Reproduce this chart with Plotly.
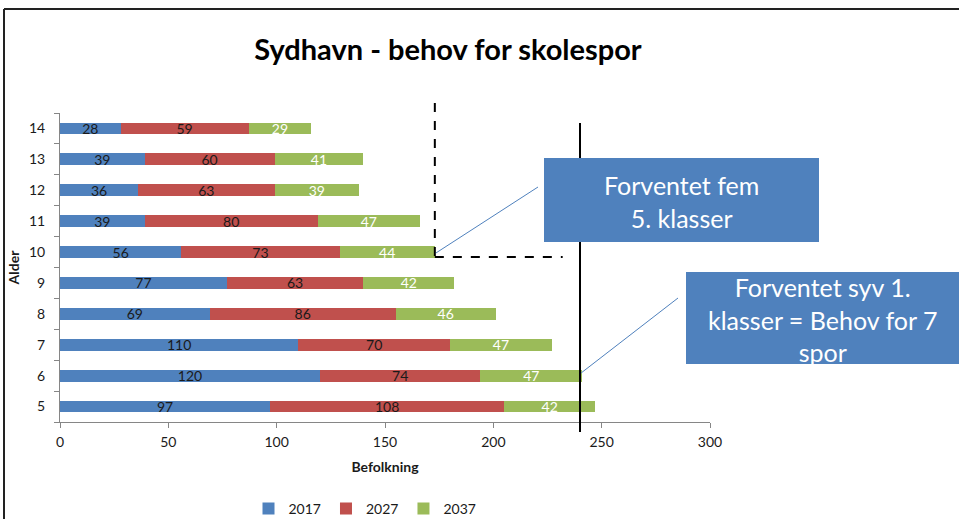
import plotly.graph_objects as go

ages = ["5", "6", "7", "8", "9", "10", "11", "12", "13", "14"]
v2017 = [97, 120, 110, 69, 77, 56, 39, 36, 39, 28]
v2027 = [108, 74, 70, 86, 63, 73, 80, 63, 60, 59]
v2037 = [42, 47, 47, 46, 42, 44, 47, 39, 41, 29]
series_names = ["2017", "2027", "2037"]
x_ticks = [0, 50, 100, 150, 200, 250, 300]

behov_7_spor = 240
dash_end = 232

FONT = "Lato"
BLUE, RED, GREEN = "#4F81BD", "#C0504D", "#9BBB59"

# plot area in pixels
W, H = 959, 519
L, R, T, B = 60, 710, 113, 422


def px(xp):
    return (xp - L) / (R - L)


def py(yp):
    return (B - yp) / (B - T)


fig = go.Figure()
for name, vals, col, tcol in [
    (series_names[0], v2017, BLUE, "#1a1a1a"),
    (series_names[1], v2027, RED, "#1a1a1a"),
    (series_names[2], v2037, GREEN, "white"),
]:
    fig.add_trace(go.Bar(
        y=ages, x=vals, name=name, orientation="h",
        marker=dict(color=col, line=dict(width=0)),
        text=vals, textposition="inside", insidetextanchor="middle",
        textangle=0, constraintext="none",
        textfont=dict(color=tcol, size=14, family=FONT),
    ))

age10 = ages.index("10")
x10 = v2017[age10] + v2027[age10] + v2037[age10]

shapes = [
    # outer frame
    dict(type="line", xref="paper", yref="paper", x0=px(4), x1=px(4), y0=py(9), y1=py(H + 5), line=dict(color="#222", width=2)),
    dict(type="line", xref="paper", yref="paper", x0=px(4), x1=px(W + 5), y0=py(9), y1=py(9), line=dict(color="#222", width=2)),
    # solid need line
    dict(type="line", xref="x", yref="paper", x0=behov_7_spor, x1=behov_7_spor, y0=py(123), y1=py(432), line=dict(color="black", width=2)),
    # dashed lines at age 10
    dict(type="line", xref="x", yref="paper", x0=x10, x1=x10, y0=py(103), y1=py(258), line=dict(color="black", width=2, dash="dash")),
    dict(type="line", xref="x", yref="paper", x0=x10, x1=dash_end, y0=py(257), y1=py(257), line=dict(color="black", width=2, dash="dash")),
    # connector lines
    dict(type="line", xref="x", yref="paper", x0=x10 + 0.5, x1=(538 - L) / (R - L) * 300, y0=py(253), y1=py(187), line=dict(color=BLUE, width=1)),
    dict(type="line", xref="x", yref="paper", x0=behov_7_spor + 0.5, x1=(678 - L) / (R - L) * 300, y0=py(373), y1=py(298), line=dict(color=BLUE, width=1)),
    # callout boxes
    dict(type="rect", xref="paper", yref="paper", x0=px(544), x1=px(819), y0=py(158), y1=py(242), fillcolor=BLUE, line=dict(width=0)),
    dict(type="rect", xref="paper", yref="paper", x0=px(686), x1=px(W + 5), y0=py(272), y1=py(364), fillcolor=BLUE, line=dict(width=0)),
]

annotations = [
    dict(xref="paper", yref="paper", x=px(681), y=py(201), text="Forventet fem<br>5. klasser",
         showarrow=False, font=dict(family=FONT, size=25, color="white"), xanchor="center", yanchor="middle"),
    dict(xref="paper", yref="paper", x=px(822), y=py(319), text="Forventet syv 1.<br>klasser = Behov for 7<br>spor",
         showarrow=False, font=dict(family=FONT, size=25, color="white"), xanchor="center", yanchor="middle"),
]

fig.update_layout(
    width=W, height=H,
    margin=dict(l=L, r=W - R, t=T, b=H - B, autoexpand=False),
    barmode="stack", bargap=0.62,
    paper_bgcolor="white", plot_bgcolor="white",
    font=dict(family=FONT, size=14, color="#1a1a1a"),
    title=dict(text="<b>Sydhavn - behov for skolespor</b>", x=448 / W, xanchor="center",
               y=1 - 50 / H, yanchor="middle", font=dict(family=FONT, size=29, color="black")),
    xaxis=dict(range=[0, 300], tickvals=x_ticks, showgrid=False, zeroline=False, automargin=False,
               showline=True, linecolor="#868686", linewidth=1, ticks="outside", ticklen=5,
               tickcolor="#868686", tickfont=dict(size=14), ticklabelstandoff=2,
               title=dict(text="<b>Befolkning</b>", font=dict(size=14), standoff=13)),
    yaxis=dict(type="category", categoryorder="array", categoryarray=ages, showgrid=False, automargin=False,
               showline=True, linecolor="#868686", linewidth=1, ticks="outside", ticklen=5,
               tickcolor="#868686", tickson="boundaries", tickfont=dict(size=14), ticklabelstandoff=11,
               title=dict(text="<b>Alder</b>", font=dict(size=14), standoff=6)),
    legend=dict(orientation="h", xref="container", yref="container", x=365 / W, xanchor="center",
                y=1 - 509 / H, yanchor="middle", font=dict(size=14), traceorder="normal",
                itemwidth=30),
    shapes=shapes, annotations=annotations,
)

fig.write_html("out.html", post_script="document.body.style.margin='0';",
               config={"displayModeBar": False})
